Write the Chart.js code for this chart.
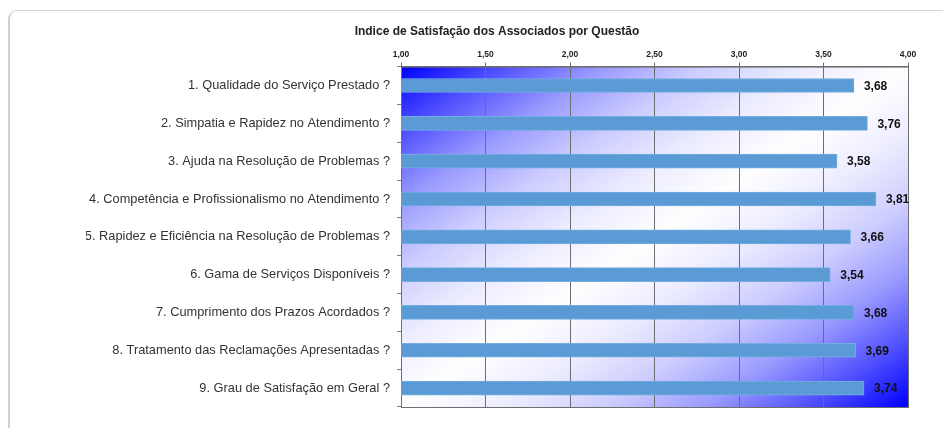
<!DOCTYPE html>
<html>
<head>
<meta charset="utf-8">
<script src="https://cdn.jsdelivr.net/npm/chart.js@4.4.1/dist/chart.umd.min.js"></script>
<style>
  html, body { margin: 0; padding: 0; background: #fff; overflow: hidden; }
  #wrap { position: relative; width: 943px; height: 428px; }
  #frame {
    position: absolute; left: 8px; top: 10px; width: 960px; height: 460px;
    border-top: 1px solid #d4d4d4; border-left: 2px solid #d0d0d0;
    border-radius: 9px;
  }
  canvas { position: absolute; left: 0; top: 0; }
</style>
</head>
<body>
<div id="wrap">
  <div id="frame"></div>
  <canvas id="satisfacao" width="943" height="428"></canvas>
</div>
<script>
const titulo = 'Indice de Satisfação dos Associados por Questão';

const questoes = [
  '1. Qualidade do Serviço Prestado ?',
  '2. Simpatia e Rapidez no Atendimento ?',
  '3. Ajuda na Resolução de Problemas ?',
  '4. Competência e Profissionalismo no Atendimento ?',
  '5. Rapidez e Eficiência na Resolução de Problemas ?',
  '6. Gama de Serviços Disponíveis ?',
  '7. Cumprimento dos Prazos Acordados ?',
  '8. Tratamento das Reclamações Apresentadas ?',
  '9. Grau de Satisfação em Geral ?'
];

const indices = [3.68, 3.76, 3.58, 3.81, 3.66, 3.54, 3.68, 3.69, 3.74];

const escalaMin = 1;
const escalaMax = 4;
const escalaPasso = 0.5;

const fmt = v => Number(v).toFixed(2).replace('.', ',');

// fundo em degradê (azul -> branco -> azul) na área do gráfico
const fundoPlugin = {
  id: 'fundo',
  beforeDraw(chart) {
    const { ctx, chartArea: a } = chart;
    const W = a.right - a.left, H = a.bottom - a.top;
    const cx = (a.left + a.right) / 2, cy = (a.top + a.bottom) / 2;
    const len = Math.sqrt(W * W + H * H);
    const k = (W * H) / len / len;
    const g = ctx.createLinearGradient(cx - H * k, cy - W * k, cx + H * k, cy + W * k);
    g.addColorStop(0, '#0000ff');
    g.addColorStop(0.1, '#5050ff');
    g.addColorStop(0.2, '#9a9aff');
    g.addColorStop(0.3, '#cdcdff');
    g.addColorStop(0.4, '#ececff');
    g.addColorStop(0.5, '#ffffff');
    g.addColorStop(0.6, '#ececff');
    g.addColorStop(0.7, '#cdcdff');
    g.addColorStop(0.8, '#9a9aff');
    g.addColorStop(0.9, '#5050ff');
    g.addColorStop(1, '#0000ff');
    ctx.save();
    ctx.fillStyle = g;
    ctx.fillRect(a.left, a.top, W, H);
    ctx.strokeStyle = '#6e6e6e';
    ctx.lineWidth = 1;
    ctx.strokeRect(a.left + 0.5, a.top + 0.5, W, H);
    ctx.restore();
  }
};

// valores no fim de cada barra
const rotulosPlugin = {
  id: 'rotulos',
  afterDatasetsDraw(chart) {
    const { ctx } = chart;
    const meta = chart.getDatasetMeta(0);
    ctx.save();
    ctx.font = 'bold 12px "Liberation Sans", Arial, sans-serif';
    ctx.fillStyle = '#111';
    ctx.textAlign = 'left';
    ctx.textBaseline = 'middle';
    meta.data.forEach((bar, i) => {
      ctx.fillText(fmt(indices[i]), bar.x + 10, bar.y + 1);
    });
    ctx.restore();
  }
};

new Chart(document.getElementById('satisfacao').getContext('2d'), {
  type: 'bar',
  data: {
    labels: questoes,
    datasets: [{
      data: indices,
      backgroundColor: '#5b9bd5',
      borderColor: '#74aee0',
      borderWidth: 1,
      borderSkipped: false,
      barThickness: 14
    }]
  },
  options: {
    indexAxis: 'y',
    responsive: false,
    animation: false,
    layout: { padding: { left: 86, right: 35, top: 24, bottom: 21 } },
    plugins: {
      legend: { display: false },
      tooltip: { enabled: false },
      title: {
        display: true,
        text: titulo,
        color: '#222',
        font: { family: '"Liberation Sans", Arial, sans-serif', size: 12, weight: 'bold' },
        padding: { top: 0, bottom: 8 }
      }
    },
    scales: {
      x: {
        position: 'top',
        min: escalaMin,
        max: escalaMax,
        ticks: {
          stepSize: escalaPasso,
          callback: v => fmt(v),
          color: '#222',
          padding: 3,
          font: { family: '"Liberation Sans", Arial, sans-serif', size: 8.5, weight: 'bold' }
        },
        grid: { color: '#6e6e6e', lineWidth: 1, tickLength: 4 },
        border: { color: '#6e6e6e' }
      },
      y: {
        afterFit: s => { s.width = 401 - 86; },
        ticks: {
          color: '#333',
          padding: 7,
          font: { family: '"Liberation Sans", Arial, sans-serif', size: 12.8 }
        },
        grid: { drawOnChartArea: false, color: '#7f7f7f', tickLength: 4 },
        border: { color: '#6e6e6e' }
      }
    }
  },
  plugins: [fundoPlugin, rotulosPlugin]
});
</script>
</body>
</html>
